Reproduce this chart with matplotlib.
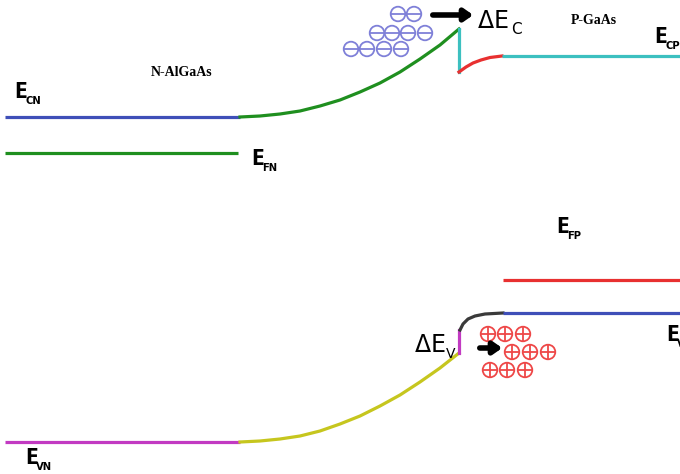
import matplotlib.pyplot as plt

# band edges in pixel units (x to the right, y downwards)
ecn_x = [5, 240]
ecn_y = [117, 117]
efn_x = [5, 238]
efn_y = [153, 153]
evn_x = [5, 240]
evn_y = [442, 442]

bend_c_x = [240, 260, 280, 300, 320, 340, 360, 380, 400, 420, 440, 459]
bend_c_y = [117, 116, 114, 111, 106, 100, 92, 83, 72, 59, 45, 29]
bend_v_x = [240, 260, 280, 300, 320, 340, 360, 380, 400, 420, 440, 459]
bend_v_y = [442, 441, 439, 436, 431, 424, 416, 406, 395, 382, 368, 353]

step_c_x = [459, 459]
step_c_y = [29, 72]
step_v_x = [459, 459]
step_v_y = [330, 353]

well_c_x = [459, 466, 473, 481, 490, 502]
well_c_y = [72, 67, 63, 60, 57.5, 56]
well_v_x = [460, 463, 468, 475, 485, 503]
well_v_y = [330, 324, 319, 316, 314, 313]

ecp_x = [502, 680]
ecp_y = [56, 56]
efp_x = [503, 680]
efp_y = [280, 280]
evp_x = [503, 680]
evp_y = [313, 313]

# carriers
elec_x = [398, 414, 377, 392, 408, 425, 351, 367, 384, 401]
elec_y = [14, 14, 33, 33, 33, 33, 49, 49, 49, 49]
hole_x = [488, 505, 523, 512, 530, 548, 490, 507, 525]
hole_y = [334, 334, 334, 352, 352, 352, 370, 370, 370]

fig = plt.figure(figsize=(6.8, 4.74), dpi=100)
ax = fig.add_axes([0, 0, 1, 1])
ax.set_xlim(0, 680)
ax.set_ylim(474, 0)
ax.axis('off')

lw = 2.3
ax.plot(ecn_x, ecn_y, color='#3f4fb8', lw=lw, solid_capstyle='butt')
ax.plot(efn_x, efn_y, color='#1f8f1f', lw=lw, solid_capstyle='butt')
ax.plot(evn_x, evn_y, color='#c23ac2', lw=lw, solid_capstyle='butt')
ax.plot(bend_c_x, bend_c_y, color='#1f8f1f', lw=lw)
ax.plot(bend_v_x, bend_v_y, color='#c6c61e', lw=lw)
ax.plot(step_c_x, step_c_y, color='#3cc0c0', lw=lw)
ax.plot(step_v_x, step_v_y, color='#c23ac2', lw=lw)
ax.plot(well_c_x, well_c_y, color='#e83030', lw=lw)
ax.plot(well_v_x, well_v_y, color='#3a3a3a', lw=lw)
ax.plot(ecp_x, ecp_y, color='#3cc0c0', lw=lw, solid_capstyle='butt')
ax.plot(efp_x, efp_y, color='#e83030', lw=lw, solid_capstyle='butt')
ax.plot(evp_x, evp_y, color='#3f4fb8', lw=lw, solid_capstyle='butt')

ax.scatter(elec_x, elec_y, s=110, facecolors='none', edgecolors='#7f80d8', linewidths=1.3)
ax.scatter(elec_x, elec_y, s=110, marker='_', color='#7f80d8', linewidths=1.3)
ax.scatter(hole_x, hole_y, s=110, facecolors='none', edgecolors='#ee4848', linewidths=1.3)
ax.scatter(hole_x, hole_y, s=110, marker='+', color='#ee4848', linewidths=1.3)

arrow = dict(arrowstyle='-|>,head_length=0.5,head_width=0.35', color='black', lw=4)
ax.annotate('', xy=(476, 15), xytext=(430, 15), arrowprops=arrow)
ax.annotate('', xy=(505, 348), xytext=(477, 348), arrowprops=arrow)

ax.text(477, 28, r'$\Delta$E', fontsize=17, ha='left', va='baseline', family='DejaVu Sans')
ax.text(511, 34, 'C', fontsize=11, ha='left', va='baseline', family='DejaVu Sans')
ax.text(414, 352, r'$\Delta$E', fontsize=17, ha='left', va='baseline', family='DejaVu Sans')
ax.text(446, 358, 'V', fontsize=10, ha='left', va='baseline', family='DejaVu Sans')

ax.text(182, 72, 'N-AlGaAs', fontsize=10, fontweight='bold', family='Liberation Serif',
        ha='center', va='center')
ax.text(594, 20, 'P-GaAs', fontsize=10, fontweight='bold', family='Liberation Serif',
        ha='center', va='center')

lab = dict(family='DejaVu Sans', fontweight='bold', fontstretch='condensed')
for x, y, sub in [(14, 98, 'CN'), (251, 165, 'FN'), (654, 43, 'CP'),
                  (556, 233, 'FP'), (25, 464, 'VN'), (666, 341, 'VP')]:
    ax.text(x, y, 'E', fontsize=15, ha='left', va='baseline', **lab)
    ax.text(x + 11, y + 6, sub, fontsize=8, ha='left', va='baseline', **lab)

fig.savefig('out.png', dpi=100)
